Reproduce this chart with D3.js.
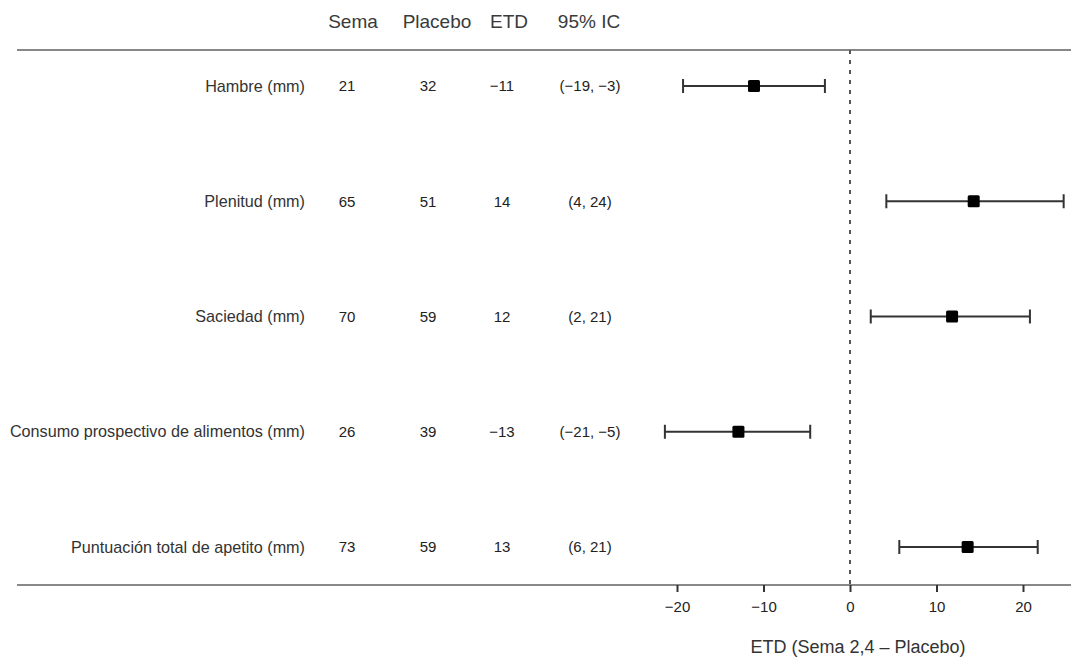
<!DOCTYPE html>
<html>
<head>
<meta charset="utf-8">
<script src="https://cdn.jsdelivr.net/npm/d3@7"></script>
<style>
  body { margin: 0; background: #fff; }
  svg { display: block; font-family: "Liberation Sans", Arial, sans-serif; }
  .axis .domain { display: none; }
  .axis line { stroke: #333; stroke-width: 2; }
  .axis text { font-size: 15px; fill: #222; }
</style>
</head>
<body>
<script>
"use strict";

// outcomes and table values
var outcomes = ["Hambre (mm)", "Plenitud (mm)", "Saciedad (mm)",
                "Consumo prospectivo de alimentos (mm)", "Puntuación total de apetito (mm)"];
var semaValues = ["21", "65", "70", "26", "73"];
var placeboValues = ["32", "51", "59", "39", "59"];
var etdLabels = ["−11", "14", "12", "−13", "13"];
var ciLabels = ["(−19, −3)", "(4, 24)", "(2, 21)", "(−21, −5)", "(6, 21)"];
var headers = ["Sema", "Placebo", "ETD", "95% IC"];

// plotted estimate and CI bounds
var etd = [-11.1, 14.3, 11.8, -12.9, 13.6];
var ciLow = [-19.3, 4.2, 2.4, -21.4, 5.7];
var ciHigh = [-2.9, 24.7, 20.8, -4.6, 21.7];
var xTicks = [-20, -10, 0, 10, 20];
var xTitle = "ETD (Sema 2,4 – Placebo)";

var width = 1071, height = 662;

var data = outcomes.map(function(o, i) {
  return {label: o, sema: semaValues[i], placebo: placeboValues[i],
          etdText: etdLabels[i], ci: ciLabels[i],
          est: etd[i], lo: ciLow[i], hi: ciHigh[i]};
});

// scales
var xScale = d3.scaleLinear().domain([-20, 20]).range([677, 1023]);
var yScale = d3.scalePoint().domain(outcomes).range([86, 547]);

var headerX = [353, 437, 509, 589];
var colX = [347, 428, 502, 590];
var topY = 50, bottomY = 585;

var svg = d3.select("body").append("svg")
    .attr("width", width)
    .attr("height", height);

// header
svg.selectAll(".hdr")
  .data(headers)
  .enter().append("text")
    .attr("class", "hdr")
    .attr("x", function(d, i) { return headerX[i]; })
    .attr("y", 28)
    .attr("text-anchor", "middle")
    .style("font-size", "19px")
    .style("fill", "#3a3a3a")
    .text(function(d) { return d; });

// rules
svg.append("line")
    .attr("x1", 17).attr("x2", width)
    .attr("y1", topY).attr("y2", topY)
    .attr("stroke", "#888").attr("stroke-width", 2.2);
svg.append("line")
    .attr("x1", 17).attr("x2", width)
    .attr("y1", bottomY).attr("y2", bottomY)
    .attr("stroke", "#888").attr("stroke-width", 2.2);

// zero reference line
svg.append("line")
    .attr("x1", xScale(0)).attr("x2", xScale(0))
    .attr("y1", topY).attr("y2", bottomY)
    .attr("stroke", "#555").attr("stroke-width", 2)
    .attr("stroke-dasharray", "4,6");

// rows
var rows = svg.selectAll(".row")
  .data(data)
  .enter().append("g")
    .attr("class", "row")
    .attr("transform", function(d) { return "translate(0," + yScale(d.label) + ")"; });

rows.append("text")
    .attr("x", 305)
    .attr("dy", "0.35em")
    .attr("text-anchor", "end")
    .style("font-size", "16.2px")
    .style("fill", "#333")
    .text(function(d) { return d.label; });

var cols = ["sema", "placebo", "etdText", "ci"];
cols.forEach(function(c, i) {
  rows.append("text")
      .attr("x", colX[i])
      .attr("dy", "0.35em")
      .attr("text-anchor", "middle")
      .style("font-size", "15px")
      .style("fill", "#222")
      .text(function(d) { return d[c]; });
});

// CI whiskers
rows.append("line")
    .attr("x1", function(d) { return xScale(d.lo); })
    .attr("x2", function(d) { return xScale(d.hi); })
    .attr("stroke", "#333").attr("stroke-width", 2);
rows.append("line")
    .attr("x1", function(d) { return xScale(d.lo); })
    .attr("x2", function(d) { return xScale(d.lo); })
    .attr("y1", -7).attr("y2", 7)
    .attr("stroke", "#333").attr("stroke-width", 2);
rows.append("line")
    .attr("x1", function(d) { return xScale(d.hi); })
    .attr("x2", function(d) { return xScale(d.hi); })
    .attr("y1", -7).attr("y2", 7)
    .attr("stroke", "#333").attr("stroke-width", 2);

// point estimate
rows.append("rect")
    .attr("x", function(d) { return xScale(d.est) - 6; })
    .attr("y", -6)
    .attr("width", 12).attr("height", 12)
    .attr("rx", 1.5)
    .attr("fill", "#000");

// x axis
var xAxis = d3.axisBottom(xScale)
    .tickValues(xTicks)
    .tickSize(7)
    .tickPadding(9);

svg.append("g")
    .attr("class", "axis")
    .attr("transform", "translate(0," + bottomY + ")")
    .call(xAxis);

svg.append("text")
    .attr("x", xScale(0) + 8)
    .attr("y", 653)
    .attr("text-anchor", "middle")
    .style("font-size", "18px")
    .style("fill", "#333")
    .text(xTitle);
</script>
</body>
</html>
